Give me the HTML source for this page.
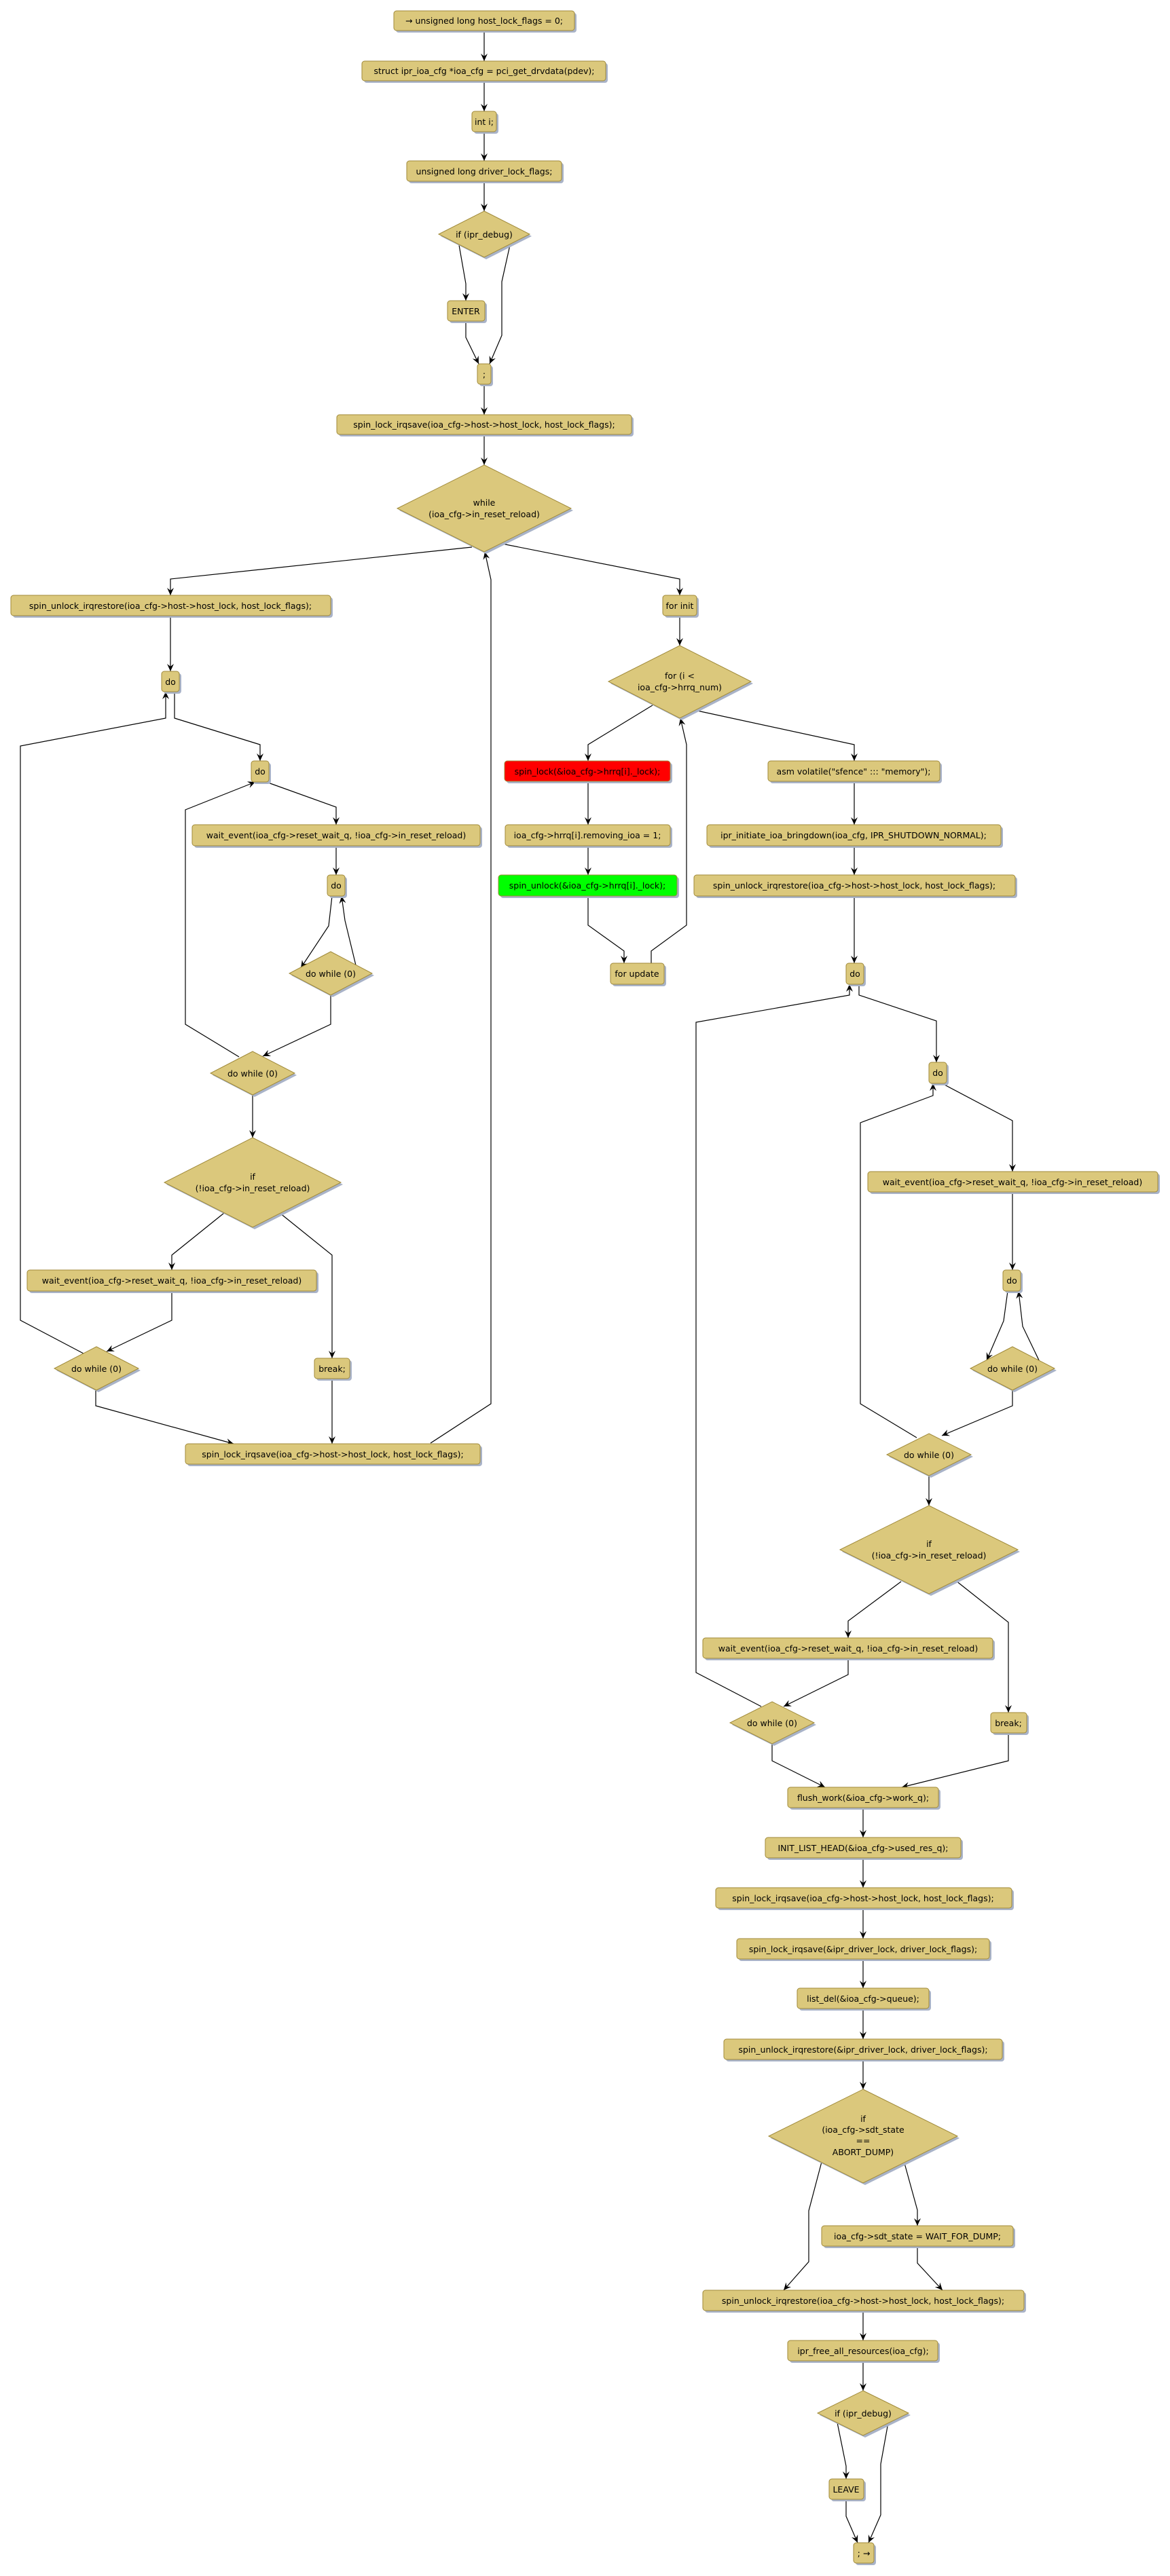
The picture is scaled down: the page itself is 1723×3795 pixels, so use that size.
<!DOCTYPE html>
<html><head><meta charset="utf-8"><style>
html,body{margin:0;padding:0;background:#fff;}
svg{display:block;}
text{font-family:"DejaVu Sans","Liberation Sans",sans-serif;font-size:12.5px;fill:#000;text-anchor:middle;}
.b{fill:#dbc87c;stroke:#a08a3a;stroke-width:1;}
.s{fill:#a9b3c8;stroke:none;}
.e{fill:none;stroke:#000;stroke-width:1.2;}
</style></head><body>
<svg width="1723" height="3795" viewBox="0 0 1723 3795" xmlns="http://www.w3.org/2000/svg">
<defs>
<marker id="a" markerWidth="12" markerHeight="10" refX="11" refY="5" orient="auto" markerUnits="userSpaceOnUse">
<path d="M0,0 L11,5 L0,10 L4,5 Z" fill="#000"/>
</marker>
</defs>

<!-- edges -->
<g class="e" marker-end="url(#a)">
<polyline points="713,45 713,90"/>
<polyline points="713,119 713,164"/>
<polyline points="713,194 713,237"/>
<polyline points="713,267 713,311"/>
<polyline points="676,361 686,418 686,443"/>
<polyline points="686,473 686,497 705,536"/>
<polyline points="751,361 739,415 739,494 721,536"/>
<polyline points="713,566 713,611"/>
<polyline points="713,640 713,685"/>
<polyline points="695,806 251,853 251,877"/>
<polyline points="739,801 1001,853 1001,877"/>
<polyline points="634,2126 723,2068 723,854 714,813"/>
<polyline points="251,907 251,989"/>
<polyline points="257,1019 257,1058 383,1097 383,1121"/>
<polyline points="123,1994 30,1945 30,1099 244,1058 244,1019"/>
<polyline points="392,1152 495,1189 495,1215"/>
<polyline points="495,1246 495,1289"/>
<polyline points="489,1320 484,1364 443,1426"/>
<polyline points="524,1422 508,1356 503,1320"/>
<polyline points="487,1466 487,1509 387,1556"/>
<polyline points="352,1557 273,1509 273,1193 376,1152"/>
<polyline points="372,1613 372,1676"/>
<polyline points="330,1787 253,1849 253,1871"/>
<polyline points="412,1787 489,1849 489,2001"/>
<polyline points="253,1902 253,1945 157,1991"/>
<polyline points="141,2048 141,2071 344,2127"/>
<polyline points="489,2031 489,2127"/>

<polyline points="1001,907 1001,951"/>
<polyline points="961,1039 866,1097 866,1121"/>
<polyline points="1022,1046 1258,1097 1258,1121"/>
<polyline points="866,1151 866,1215"/>
<polyline points="866,1246 866,1289"/>
<polyline points="866,1320 866,1363 919,1401 919,1419"/>
<polyline points="959,1419 959,1401 1011,1363 1011,1097 1002,1058"/>
<polyline points="1258,1151 1258,1215"/>
<polyline points="1258,1246 1258,1289"/>
<polyline points="1258,1320 1258,1419"/>
<polyline points="1265,1450 1265,1466 1379,1504 1379,1565"/>
<polyline points="1121,2514 1025,2464 1025,1506 1251,1466 1251,1450"/>
<polyline points="1387,1596 1491,1651 1491,1726"/>
<polyline points="1491,1756 1491,1871"/>
<polyline points="1484,1902 1478,1946 1453,2004"/>
<polyline points="1531,2006 1506,1954 1500,1902"/>
<polyline points="1491,2048 1491,2071 1387,2115"/>
<polyline points="1350,2118 1267,2068 1267,1654 1374,1614 1374,1596"/>
<polyline points="1368,2174 1368,2218"/>
<polyline points="1327,2330 1249,2388 1249,2413"/>
<polyline points="1408,2329 1485,2390 1485,2523"/>
<polyline points="1249,2443 1249,2467 1154,2514"/>
<polyline points="1137,2569 1137,2594 1215,2633"/>
<polyline points="1485,2553 1485,2594 1328,2633"/>
<polyline points="1271,2663 1271,2707"/>
<polyline points="1271,2737 1271,2781"/>
<polyline points="1271,2811 1271,2856"/>
<polyline points="1271,2886 1271,2929"/>
<polyline points="1271,2959 1271,3004"/>
<polyline points="1271,3034 1271,3078"/>
<polyline points="1210,3185 1191,3257 1191,3332 1154,3374"/>
<polyline points="1332,3187 1351,3256 1351,3279"/>
<polyline points="1351,3309 1351,3334 1388,3374"/>
<polyline points="1271,3404 1271,3448"/>
<polyline points="1271,3478 1271,3522"/>
<polyline points="1233,3569 1246,3633 1246,3652"/>
<polyline points="1308,3569 1297,3630 1297,3705 1279,3746"/>
<polyline points="1246,3682 1246,3707 1263,3746"/>
</g>

<!-- boxes: shadow + box + text -->
<g>
<rect class="s" x="583" y="19" width="266" height="29" rx="4"/><rect class="b" x="580" y="16" width="266" height="29" rx="4"/><text x="713" y="35">→ unsigned long host_lock_flags = 0;</text>
<rect class="s" x="536" y="93" width="359" height="29" rx="4"/><rect class="b" x="533" y="90" width="359" height="29" rx="4"/><text x="713" y="109">struct ipr_ioa_cfg *ioa_cfg = pci_get_drvdata(pdev);</text>
<rect class="s" x="698" y="167" width="36" height="30" rx="4"/><rect class="b" x="695" y="164" width="36" height="30" rx="4"/><text x="713" y="184">int i;</text>
<rect class="s" x="602" y="240" width="228" height="30" rx="4"/><rect class="b" x="599" y="237" width="228" height="30" rx="4"/><text x="713" y="257">unsigned long driver_lock_flags;</text>
<rect class="s" x="662" y="446" width="55" height="30" rx="4"/><rect class="b" x="659" y="443" width="55" height="30" rx="4"/><text x="686" y="463">ENTER</text>
<rect class="s" x="706" y="539" width="20" height="30" rx="4"/><rect class="b" x="703" y="536" width="20" height="30" rx="4"/><text x="713" y="556">;</text>
<rect class="s" x="499" y="614" width="434" height="29" rx="4"/><rect class="b" x="496" y="611" width="434" height="29" rx="4"/><text x="713" y="630">spin_lock_irqsave(ioa_cfg-&gt;host-&gt;host_lock, host_lock_flags);</text>
<rect class="s" x="19" y="880" width="471" height="30" rx="4"/><rect class="b" x="16" y="877" width="471" height="30" rx="4"/><text x="251" y="897">spin_unlock_irqrestore(ioa_cfg-&gt;host-&gt;host_lock, host_lock_flags);</text>
<rect class="s" x="979" y="880" width="50" height="30" rx="4"/><rect class="b" x="976" y="877" width="50" height="30" rx="4"/><text x="1001" y="897">for init</text>
<rect class="s" x="241" y="992" width="26" height="30" rx="4"/><rect class="b" x="238" y="989" width="26" height="30" rx="4"/><text x="251" y="1009">do</text>
<rect class="s" x="373" y="1124" width="26" height="31" rx="4"/><rect class="b" x="370" y="1121" width="26" height="31" rx="4"/><text x="383" y="1141">do</text>
<rect class="s" x="286" y="1218" width="424" height="31" rx="4"/><rect class="b" x="283" y="1215" width="424" height="31" rx="4"/><text x="495" y="1235">wait_event(ioa_cfg-&gt;reset_wait_q, !ioa_cfg-&gt;in_reset_reload)</text>
<rect class="s" x="485" y="1292" width="26" height="31" rx="4"/><rect class="b" x="482" y="1289" width="26" height="31" rx="4"/><text x="495" y="1309">do</text>
<rect class="s" x="43" y="1874" width="426" height="31" rx="4"/><rect class="b" x="40" y="1871" width="426" height="31" rx="4"/><text x="253" y="1891">wait_event(ioa_cfg-&gt;reset_wait_q, !ioa_cfg-&gt;in_reset_reload)</text>
<rect class="s" x="466" y="2004" width="52" height="30" rx="4"/><rect class="b" x="463" y="2001" width="52" height="30" rx="4"/><text x="489" y="2021">break;</text>
<rect class="s" x="276" y="2130" width="434" height="30" rx="4"/><rect class="b" x="273" y="2127" width="434" height="30" rx="4"/><text x="490" y="2147">spin_lock_irqsave(ioa_cfg-&gt;host-&gt;host_lock, host_lock_flags);</text>

<rect class="s" x="746" y="1124" width="244" height="30" rx="4"/><rect style="fill:#ff0000;stroke:#a08a3a" x="743" y="1121" width="244" height="30" rx="4"/><text x="865" y="1141">spin_lock(&amp;ioa_cfg-&gt;hrrq[i]._lock);</text>
<rect class="s" x="747" y="1218" width="243" height="31" rx="4"/><rect class="b" x="744" y="1215" width="243" height="31" rx="4"/><text x="865" y="1235">ioa_cfg-&gt;hrrq[i].removing_ioa = 1;</text>
<rect class="s" x="737" y="1292" width="263" height="31" rx="4"/><rect style="fill:#00ff00;stroke:#a08a3a" x="734" y="1289" width="263" height="31" rx="4"/><text x="865" y="1309">spin_unlock(&amp;ioa_cfg-&gt;hrrq[i]._lock);</text>
<rect class="s" x="902" y="1422" width="79" height="31" rx="4"/><rect class="b" x="899" y="1419" width="79" height="31" rx="4"/><text x="938" y="1439">for update</text>
<rect class="s" x="1134" y="1124" width="253" height="30" rx="4"/><rect class="b" x="1131" y="1121" width="253" height="30" rx="4"/><text x="1257" y="1141">asm volatile("sfence" ::: "memory");</text>
<rect class="s" x="1044" y="1218" width="433" height="31" rx="4"/><rect class="b" x="1041" y="1215" width="433" height="31" rx="4"/><text x="1257" y="1235">ipr_initiate_ioa_bringdown(ioa_cfg, IPR_SHUTDOWN_NORMAL);</text>
<rect class="s" x="1025" y="1292" width="473" height="31" rx="4"/><rect class="b" x="1022" y="1289" width="473" height="31" rx="4"/><text x="1258" y="1309">spin_unlock_irqrestore(ioa_cfg-&gt;host-&gt;host_lock, host_lock_flags);</text>
<rect class="s" x="1249" y="1422" width="26" height="31" rx="4"/><rect class="b" x="1246" y="1419" width="26" height="31" rx="4"/><text x="1259" y="1439">do</text>
<rect class="s" x="1371" y="1568" width="26" height="31" rx="4"/><rect class="b" x="1368" y="1565" width="26" height="31" rx="4"/><text x="1381" y="1585">do</text>
<rect class="s" x="1281" y="1729" width="427" height="30" rx="4"/><rect class="b" x="1278" y="1726" width="427" height="30" rx="4"/><text x="1491" y="1746">wait_event(ioa_cfg-&gt;reset_wait_q, !ioa_cfg-&gt;in_reset_reload)</text>
<rect class="s" x="1480" y="1874" width="26" height="31" rx="4"/><rect class="b" x="1477" y="1871" width="26" height="31" rx="4"/><text x="1490" y="1891">do</text>
<rect class="s" x="1038" y="2416" width="427" height="30" rx="4"/><rect class="b" x="1035" y="2413" width="427" height="30" rx="4"/><text x="1249" y="2433">wait_event(ioa_cfg-&gt;reset_wait_q, !ioa_cfg-&gt;in_reset_reload)</text>
<rect class="s" x="1462" y="2526" width="53" height="30" rx="4"/><rect class="b" x="1459" y="2523" width="53" height="30" rx="4"/><text x="1485" y="2543">break;</text>
<rect class="s" x="1163" y="2636" width="222" height="30" rx="4"/><rect class="b" x="1160" y="2633" width="222" height="30" rx="4"/><text x="1271" y="2653">flush_work(&amp;ioa_cfg-&gt;work_q);</text>
<rect class="s" x="1130" y="2710" width="288" height="30" rx="4"/><rect class="b" x="1127" y="2707" width="288" height="30" rx="4"/><text x="1271" y="2727">INIT_LIST_HEAD(&amp;ioa_cfg-&gt;used_res_q);</text>
<rect class="s" x="1057" y="2784" width="436" height="30" rx="4"/><rect class="b" x="1054" y="2781" width="436" height="30" rx="4"/><text x="1271" y="2801">spin_lock_irqsave(ioa_cfg-&gt;host-&gt;host_lock, host_lock_flags);</text>
<rect class="s" x="1088" y="2859" width="372" height="30" rx="4"/><rect class="b" x="1085" y="2856" width="372" height="30" rx="4"/><text x="1271" y="2876">spin_lock_irqsave(&amp;ipr_driver_lock, driver_lock_flags);</text>
<rect class="s" x="1177" y="2932" width="194" height="30" rx="4"/><rect class="b" x="1174" y="2929" width="194" height="30" rx="4"/><text x="1271" y="2949">list_del(&amp;ioa_cfg-&gt;queue);</text>
<rect class="s" x="1069" y="3007" width="410" height="30" rx="4"/><rect class="b" x="1066" y="3004" width="410" height="30" rx="4"/><text x="1271" y="3024">spin_unlock_irqrestore(&amp;ipr_driver_lock, driver_lock_flags);</text>
<rect class="s" x="1213" y="3282" width="282" height="30" rx="4"/><rect class="b" x="1210" y="3279" width="282" height="30" rx="4"/><text x="1351" y="3299">ioa_cfg-&gt;sdt_state = WAIT_FOR_DUMP;</text>
<rect class="s" x="1038" y="3377" width="473" height="30" rx="4"/><rect class="b" x="1035" y="3374" width="473" height="30" rx="4"/><text x="1271" y="3394">spin_unlock_irqrestore(ioa_cfg-&gt;host-&gt;host_lock, host_lock_flags);</text>
<rect class="s" x="1163" y="3451" width="221" height="30" rx="4"/><rect class="b" x="1160" y="3448" width="221" height="30" rx="4"/><text x="1271" y="3468">ipr_free_all_resources(ioa_cfg);</text>
<rect class="s" x="1224" y="3655" width="51" height="30" rx="4"/><rect class="b" x="1221" y="3652" width="51" height="30" rx="4"/><text x="1246" y="3672">LEAVE</text>
<rect class="s" x="1260" y="3749" width="30" height="30" rx="4"/><rect class="b" x="1257" y="3746" width="30" height="30" rx="4"/><text x="1272" y="3766">; →</text>
</g>

<!-- diamonds -->
<g>
<polygon class="s" points="716,314 783,348 716,382 649,348"/><polygon class="b" points="713,311 780,345 713,379 646,345"/><text x="713" y="350">if (ipr_debug)</text>
<polygon class="s" points="716,688 844,752 716,816 588,752"/><polygon class="b" points="713,685 841,749 713,813 585,749"/><text x="713" y="745">while</text><text x="713" y="762">(ioa_cfg-&gt;in_reset_reload)</text>
<polygon class="s" points="490,1405 551,1437 490,1469 429,1437"/><polygon class="b" points="487,1402 548,1434 487,1466 426,1434"/><text x="487" y="1439">do while (0)</text>
<polygon class="s" points="375,1552 437,1584 375,1616 313,1584"/><polygon class="b" points="372,1549 434,1581 372,1613 310,1581"/><text x="372" y="1586">do while (0)</text>
<polygon class="s" points="375,1679 505,1745 375,1811 245,1745"/><polygon class="b" points="372,1676 502,1742 372,1808 242,1742"/><text x="372" y="1738">if</text><text x="372" y="1755">(!ioa_cfg-&gt;in_reset_reload)</text>
<polygon class="s" points="145,1987 207,2019 145,2051 83,2019"/><polygon class="b" points="142,1984 204,2016 142,2048 80,2016"/><text x="142" y="2021">do while (0)</text>
<polygon class="s" points="1004,954 1109,1007 1004,1061 899,1007"/><polygon class="b" points="1001,951 1106,1004 1001,1058 896,1004"/><text x="1001" y="1000">for (i &lt;</text><text x="1001" y="1017">ioa_cfg-&gt;hrrq_num)</text>
<polygon class="s" points="1494,1987 1556,2019 1494,2051 1432,2019"/><polygon class="b" points="1491,1984 1553,2016 1491,2048 1429,2016"/><text x="1491" y="2021">do while (0)</text>
<polygon class="s" points="1371,2115 1433,2146 1371,2177 1309,2146"/><polygon class="b" points="1368,2112 1430,2143 1368,2174 1306,2143"/><text x="1368" y="2148">do while (0)</text>
<polygon class="s" points="1371,2221 1502,2286 1371,2351 1240,2286"/><polygon class="b" points="1368,2218 1499,2283 1368,2348 1237,2283"/><text x="1368" y="2279">if</text><text x="1368" y="2296">(!ioa_cfg-&gt;in_reset_reload)</text>
<polygon class="s" points="1140,2510 1202,2541 1140,2572 1078,2541"/><polygon class="b" points="1137,2507 1199,2538 1137,2569 1075,2538"/><text x="1137" y="2543">do while (0)</text>
<polygon class="s" points="1274,3081 1413,3150 1274,3219 1135,3150"/><polygon class="b" points="1271,3078 1410,3147 1271,3216 1132,3147"/><text x="1271" y="3126">if</text><text x="1271" y="3142">(ioa_cfg-&gt;sdt_state</text><text x="1271" y="3158">==</text><text x="1271" y="3175">ABORT_DUMP)</text>
<polygon class="s" points="1274,3525 1341,3558 1274,3591 1207,3558"/><polygon class="b" points="1271,3522 1338,3555 1271,3588 1204,3555"/><text x="1271" y="3560">if (ipr_debug)</text>
</g>
</svg>
</body></html>
